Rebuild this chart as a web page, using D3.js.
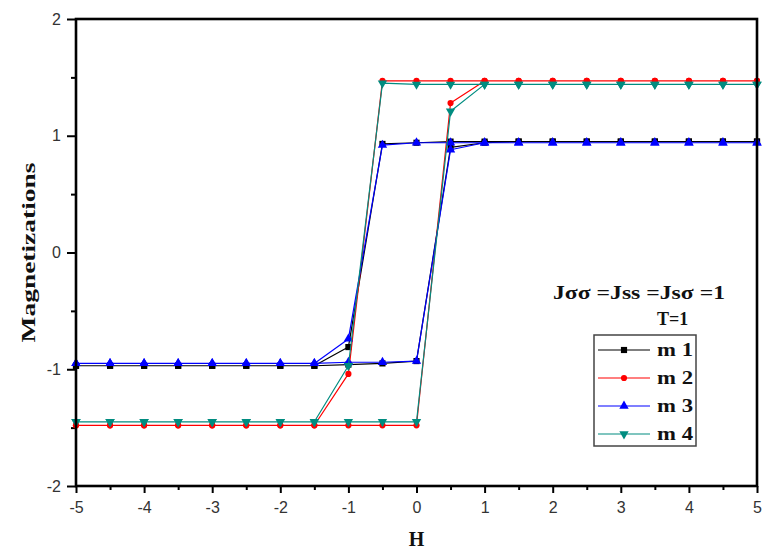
<!DOCTYPE html>
<html>
<head>
<meta charset="utf-8">
<script src="https://cdn.jsdelivr.net/npm/d3@7"></script>
<style>
  html, body { margin: 0; padding: 0; background: #fff; }
  svg { display: block; }
</style>
</head>
<body>
<svg id="chart" width="765" height="555"></svg>
<script>
// Field sweep: increasing branch, then decreasing branch
const hUp   = [-5, -4.5, -4, -3.5, -3, -2.5, -2, -1.5, -1, -0.5, 0, 0.5, 1, 1.5, 2, 2.5, 3, 3.5, 4, 4.5, 5];
const hDown = [5, 4.5, 4, 3.5, 3, 2.5, 2, 1.5, 1, 0.5, 0, -0.5, -1, -1.5, -2, -2.5, -3, -3.5, -4, -4.5, -5];

const m1Up   = [-0.97, -0.97, -0.97, -0.97, -0.97, -0.97, -0.97, -0.97, -0.96, -0.95, -0.93, 0.90, 0.94, 0.95, 0.95, 0.95, 0.95, 0.95, 0.95, 0.95, 0.95];
const m1Down = [0.95, 0.95, 0.95, 0.95, 0.95, 0.95, 0.95, 0.95, 0.95, 0.95, 0.94, 0.93, -0.81, -0.97, -0.97, -0.97, -0.97, -0.97, -0.97, -0.97, -0.97];

const m2Up   = [-1.48, -1.48, -1.48, -1.48, -1.48, -1.48, -1.48, -1.48, -1.48, -1.48, -1.48, 1.28, 1.47, 1.47, 1.47, 1.47, 1.47, 1.47, 1.47, 1.47, 1.47];
const m2Down = [1.47, 1.47, 1.47, 1.47, 1.47, 1.47, 1.47, 1.47, 1.47, 1.47, 1.47, 1.47, -1.04, -1.48, -1.48, -1.48, -1.48, -1.48, -1.48, -1.48, -1.48];

const m3Up   = [-0.95, -0.95, -0.95, -0.95, -0.95, -0.95, -0.95, -0.95, -0.94, -0.94, -0.93, 0.88, 0.94, 0.94, 0.94, 0.94, 0.94, 0.94, 0.94, 0.94, 0.94];
const m3Down = [0.94, 0.94, 0.94, 0.94, 0.94, 0.94, 0.94, 0.94, 0.94, 0.94, 0.94, 0.92, -0.74, -0.95, -0.95, -0.95, -0.95, -0.95, -0.95, -0.95, -0.95];

const m4Up   = [-1.45, -1.45, -1.45, -1.45, -1.45, -1.45, -1.45, -1.45, -1.45, -1.45, -1.45, 1.21, 1.44, 1.44, 1.44, 1.44, 1.44, 1.44, 1.44, 1.44, 1.44];
const m4Down = [1.44, 1.44, 1.44, 1.44, 1.44, 1.44, 1.44, 1.44, 1.44, 1.44, 1.44, 1.45, -0.97, -1.45, -1.45, -1.45, -1.45, -1.45, -1.45, -1.45, -1.45];

const seriesNames  = ["m 1", "m 2", "m 3", "m 4"];
const seriesColors = ["#000000", "#ff0000", "#0000ff", "#008c80"];
const seriesShapes = [d3.symbolSquare, d3.symbolCircle, d3.symbolTriangle, d3.symbolTriangle];
const seriesFlip   = [false, false, false, true];

const xTicks = [-5, -4, -3, -2, -1, 0, 1, 2, 3, 4, 5];
const yTicks = [-2, -1, 0, 1, 2];

const series = [
  { up: m1Up, down: m1Down },
  { up: m2Up, down: m2Down },
  { up: m3Up, down: m3Down },
  { up: m4Up, down: m4Down }
].map((s, i) => ({
  name: seriesNames[i],
  color: seriesColors[i],
  shape: seriesShapes[i],
  flip: seriesFlip[i],
  points: hUp.map((h, k) => ({ h, m: s.up[k] }))
    .concat(hDown.map((h, k) => ({ h, m: s.down[k] })))
}));

const svg = d3.select("#chart");
const plotLeft = 76, plotRight = 757, plotTop = 19, plotBottom = 486;

const x = d3.scaleLinear().domain([-5, 5]).range([plotLeft, plotRight]);
const y = d3.scaleLinear().domain([-2, 2]).range([plotBottom, plotTop]);

const tickFont = "'Liberation Sans Narrow', 'Arial Narrow', 'Liberation Sans', sans-serif";
const serif = "'Liberation Serif', 'Times New Roman', serif";
const plainInt = d => String(d);   // keeps an ASCII hyphen for negatives

// Bottom axis: major ticks at integers, minor at halves
svg.append("g").attr("transform", `translate(0,${plotBottom})`)
  .call(d3.axisBottom(x).tickValues(xTicks).tickSize(7).tickPadding(9).tickFormat(plainInt));
svg.append("g").attr("transform", `translate(0,${plotBottom})`)
  .call(d3.axisBottom(x).tickValues(d3.range(-4.5, 5, 1)).tickSize(4).tickFormat(""));

// Left axis
svg.append("g").attr("transform", `translate(${plotLeft},0)`)
  .call(d3.axisLeft(y).tickValues(yTicks).tickSize(9).tickPadding(6).tickFormat(plainInt));
svg.append("g").attr("transform", `translate(${plotLeft},0)`)
  .call(d3.axisLeft(y).tickValues([-1.5, -0.5, 0.5, 1.5]).tickSize(5).tickFormat(""));

svg.selectAll(".domain").remove();
svg.selectAll(".tick line").attr("stroke", "#000").attr("stroke-width", 2);
svg.selectAll(".tick text")
  .attr("font-family", tickFont).attr("font-size", 16).attr("fill", "#333");

// Series lines and markers
const line = d3.line().x(d => x(d.h)).y(d => y(d.m));
const plot = svg.append("g");
series.forEach(s => {
  plot.append("path")
    .attr("d", line(s.points))
    .attr("fill", "none")
    .attr("stroke", s.color)
    .attr("stroke-width", 1.2)
    .attr("stroke-linejoin", "round");
  const sym = d3.symbol().type(s.shape).size(s.shape === d3.symbolCircle ? 30 : 38);
  plot.selectAll(null).data(s.points).enter().append("path")
    .attr("d", sym)
    .attr("transform", d => `translate(${x(d.h)},${y(d.m)})${s.flip ? " rotate(180)" : ""}`)
    .attr("fill", s.color);
});

// Plot frame
svg.append("rect")
  .attr("x", plotLeft).attr("y", plotTop)
  .attr("width", plotRight - plotLeft).attr("height", plotBottom - plotTop)
  .attr("fill", "none").attr("stroke", "#000").attr("stroke-width", 2.6);

// Axis titles
svg.append("text")
  .attr("x", (plotLeft + plotRight) / 2).attr("y", 546)
  .attr("text-anchor", "middle")
  .attr("font-family", serif).attr("font-weight", "bold").attr("font-size", 20)
  .attr("fill", "#111").text("H");

svg.append("text")
  .attr("transform", `translate(35,${(plotTop + plotBottom) / 2}) rotate(-90)`)
  .attr("text-anchor", "middle")
  .attr("font-family", serif).attr("font-weight", "bold").attr("font-size", 18)
  .attr("textLength", 180).attr("lengthAdjust", "spacingAndGlyphs")
  .attr("fill", "#111").text("Magnetizations");

// Parameter annotation
svg.append("text")
  .attr("x", 553).attr("y", 299)
  .attr("font-family", serif).attr("font-weight", "bold").attr("font-size", 18)
  .attr("textLength", 172).attr("lengthAdjust", "spacingAndGlyphs")
  .attr("fill", "#111").text("Jσσ =Jss =Jsσ =1");
svg.append("text")
  .attr("x", 657).attr("y", 325)
  .attr("font-family", serif).attr("font-weight", "bold").attr("font-size", 18)
  .attr("fill", "#111").text("T=1");

// Legend
const legend = svg.append("g");
legend.append("rect")
  .attr("x", 594).attr("y", 335).attr("width", 102).attr("height", 111)
  .attr("fill", "#fff").attr("stroke", "#444").attr("stroke-width", 1.5);
series.forEach((s, i) => {
  const ly = 350 + i * 28;
  legend.append("line")
    .attr("x1", 598).attr("x2", 650).attr("y1", ly).attr("y2", ly)
    .attr("stroke", s.color).attr("stroke-width", 1.2);
  legend.append("path")
    .attr("d", d3.symbol().type(s.shape).size(s.shape === d3.symbolCircle ? 30 : 38))
    .attr("transform", `translate(624,${ly})${s.flip ? " rotate(180)" : ""}`)
    .attr("fill", s.color);
  legend.append("text")
    .attr("x", 657).attr("y", ly + 6)
    .attr("font-family", serif).attr("font-weight", "bold").attr("font-size", 19)
    .attr("textLength", 36).attr("lengthAdjust", "spacingAndGlyphs")
    .attr("fill", "#111").text(s.name);
});
</script>
</body>
</html>
